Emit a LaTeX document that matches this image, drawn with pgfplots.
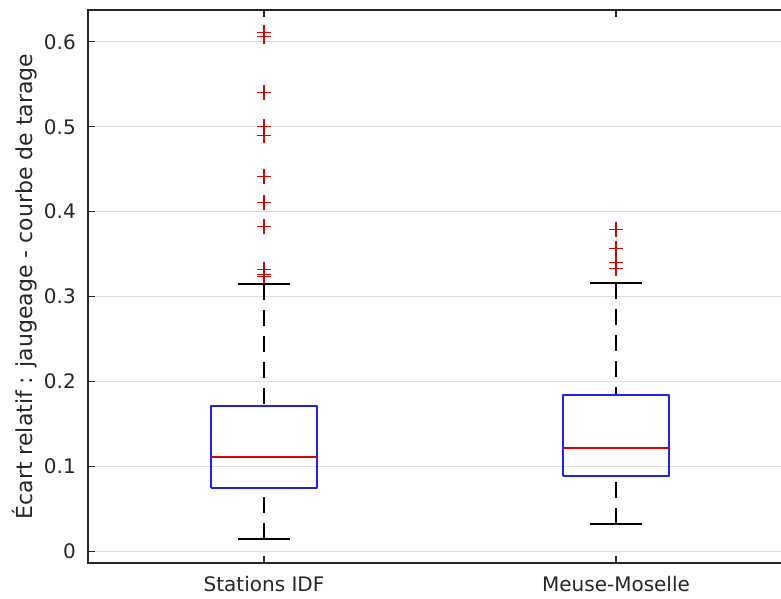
\documentclass[border=0pt]{standalone}
\usepackage{fontspec}
\setmainfont{DejaVu Sans}
\usepackage{pgfplots}
\pgfplotsset{compat=1.18}
\definecolor{axgray}{RGB}{38,38,38}
\definecolor{gridgray}{RGB}{222,222,222}
\definecolor{mblue}{RGB}{30,30,255}
\definecolor{mred}{RGB}{225,0,0}
\begin{document}
\begin{tikzpicture}
\begin{axis}[
  at={(0bp,0bp)}, anchor=south west,
  scale only axis, width=704bp, height=553bp,
  xmin=0.5, xmax=2.5, ymin=-0.0135, ymax=0.6374,
  axis line style={draw=axgray, line width=1.6bp},
  xtick={1,2}, xticklabels={Stations IDF, Meuse-Moselle},
  ytick={0,0.1,0.2,0.3,0.4,0.5,0.6},
  yticklabels={0,0.1,0.2,0.3,0.4,0.5,0.6},
  tick align=inside, major tick length=7bp,
  tick style={draw=axgray, line width=1.2bp},
  ymajorgrids, grid style={draw=gridgray, line width=1.2bp},
  tick label style={font=\fontsize{20bp}{24bp}\selectfont, text=axgray},
  xticklabel style={anchor=base, yshift=-28.6bp},
  yticklabel style={anchor=east, inner sep=0bp, xshift=-12bp},
  every axis y label/.style={at={(axis description cs:0,0.5)}, xshift=-55bp, rotate=90, anchor=base, font=\fontsize{22bp}{26bp}\selectfont, text=axgray},
  ylabel={Écart relatif : jaugeage - courbe de tarage},
  boxline/.style={mark=none, line width=1.8bp},
  whisk/.style={mark=none, draw=black, line width=1.8bp, dash pattern=on 16bp off 10bp},
  cap/.style={mark=none, draw=black, line width=1.8bp},
  outl/.style={only marks, mark=+, color=mred, mark size=7.4bp, mark options={color=mred, line width=1.2bp, solid}},
]
% Stations IDF
\addplot[whisk] coordinates {(1,0.0147) (1,0.0748)};
\addplot[whisk] coordinates {(1,0.3147) (1,0.1714)};
\addplot[cap] coordinates {(0.926,0.0147) (1.074,0.0147)};
\addplot[cap] coordinates {(0.926,0.3147) (1.074,0.3147)};
\addplot[boxline, draw=mblue, line join=round] coordinates {(0.85,0.0748) (1.15,0.0748) (1.15,0.1714) (0.85,0.1714) (0.85,0.0748)};
\addplot[boxline, draw=mred] coordinates {(0.85,0.1113) (1.15,0.1113)};
\addplot[outl] coordinates {(1,0.611) (1,0.606) (1,0.540) (1,0.4998) (1,0.4894) (1,0.441)
    (1,0.411) (1,0.383) (1,0.3324) (1,0.3257) (1,0.3237)};
% Meuse-Moselle
\addplot[whisk] coordinates {(2,0.0324) (2,0.0893)};
\addplot[whisk] coordinates {(2,0.3159) (2,0.1843)};
\addplot[cap] coordinates {(1.926,0.0324) (2.074,0.0324)};
\addplot[cap] coordinates {(1.926,0.3159) (2.074,0.3159)};
\addplot[boxline, draw=mblue, line join=round] coordinates {(1.85,0.0893) (2.15,0.0893) (2.15,0.1843) (1.85,0.1843) (1.85,0.0893)};
\addplot[boxline, draw=mred] coordinates {(1.85,0.1215) (2.15,0.1215)};
\addplot[outl] coordinates {(2,0.3795) (2,0.3571) (2,0.3402) (2,0.3336)};
\end{axis}
\pgfresetboundingbox
\useasboundingbox (-88bp,-36bp) rectangle (693bp,563bp);
\end{tikzpicture}
\end{document}
